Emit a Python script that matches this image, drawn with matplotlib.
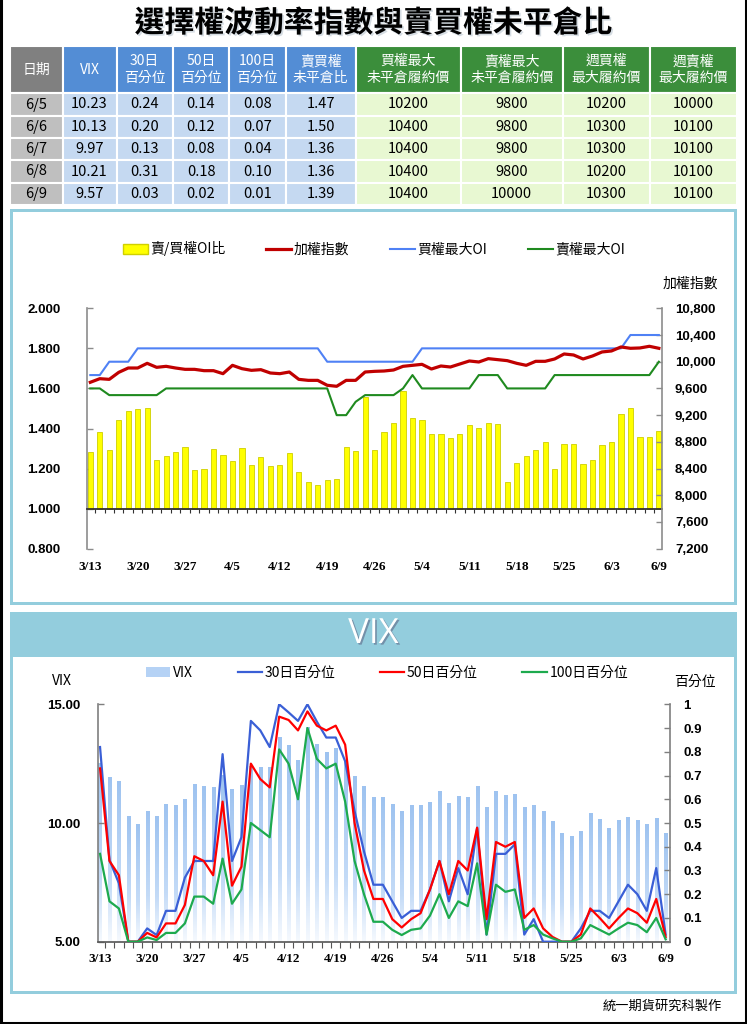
import numpy as np
import matplotlib
matplotlib.use('Agg')
import matplotlib.pyplot as plt
from matplotlib.patches import Rectangle, Patch
from matplotlib.lines import Line2D
from matplotlib.colors import LinearSegmentedColormap
import matplotlib.patheffects as pe

plt.rcParams['font.family'] = ['Noto Sans CJK TC', 'DejaVu Sans']

# ---------------- data ----------------
dates = ['3/13', '3/14', '3/15', '3/16', '3/17', '3/20', '3/21', '3/22', '3/23', '3/24',
         '3/27', '3/28', '3/29', '3/30', '3/31', '4/5', '4/6', '4/7', '4/10', '4/11',
         '4/12', '4/13', '4/14', '4/17', '4/18', '4/19', '4/20', '4/21', '4/24', '4/25',
         '4/26', '4/27', '4/28', '5/2', '5/3', '5/4', '5/5', '5/8', '5/9', '5/10',
         '5/11', '5/12', '5/15', '5/16', '5/17', '5/18', '5/19', '5/22', '5/23', '5/24',
         '5/25', '5/26', '5/31', '6/1', '6/2', '6/3', '6/5', '6/6', '6/7', '6/8', '6/9']

pc_oi_ratio = [1.284, 1.384, 1.291, 1.444, 1.487, 1.497, 1.504, 1.244, 1.264, 1.284,
               1.309, 1.191, 1.196, 1.298, 1.268, 1.236, 1.303, 1.219, 1.258, 1.214,
               1.219, 1.279, 1.184, 1.131, 1.120, 1.141, 1.146, 1.308, 1.289, 1.559,
               1.294, 1.381, 1.429, 1.589, 1.454, 1.442, 1.371, 1.371, 1.353, 1.374,
               1.419, 1.402, 1.429, 1.424, 1.131, 1.226, 1.263, 1.293, 1.334, 1.199,
               1.323, 1.323, 1.223, 1.241, 1.318, 1.334, 1.47, 1.50, 1.36, 1.36, 1.39]

taiex = [9692, 9746, 9736, 9841, 9906, 9906, 9976, 9916, 9931, 9906,
         9886, 9886, 9866, 9866, 9821, 9946, 9896, 9871, 9881, 9831,
         9821, 9846, 9736, 9721, 9721, 9647, 9632, 9721, 9721, 9846,
         9856, 9861, 9876, 9931, 9946, 9961, 9891, 9936, 9921, 9966,
         10011, 9996, 10046, 10031, 10016, 9976, 9946, 10006, 10006, 10041,
         10116, 10101, 10041, 10086, 10146, 10161, 10221, 10201, 10206, 10231, 10201]

call_max_oi = [9800, 9800, 10000, 10000, 10000, 10200, 10200, 10200, 10200, 10200,
               10200, 10200, 10200, 10200, 10200, 10200, 10200, 10200, 10200, 10200,
               10200, 10200, 10200, 10200, 10200, 10000, 10000, 10000, 10000, 10000,
               10000, 10000, 10000, 10000, 10000, 10200, 10200, 10200, 10200, 10200,
               10200, 10200, 10200, 10200, 10200, 10200, 10200, 10200, 10200, 10200,
               10200, 10200, 10200, 10200, 10200, 10200, 10200, 10400, 10400, 10400, 10400]

put_max_oi = [9600, 9600, 9500, 9500, 9500, 9500, 9500, 9500, 9600, 9600,
              9600, 9600, 9600, 9600, 9600, 9600, 9600, 9600, 9600, 9600,
              9600, 9600, 9600, 9600, 9600, 9600, 9200, 9200, 9400, 9500,
              9500, 9500, 9500, 9600, 9800, 9600, 9600, 9600, 9600, 9600,
              9600, 9800, 9800, 9800, 9600, 9600, 9600, 9600, 9600, 9800,
              9800, 9800, 9800, 9800, 9800, 9800, 9800, 9800, 9800, 9800, 10000]

vix = [12.50, 11.95, 11.78, 10.27, 9.94, 10.51, 10.27, 10.81, 10.73, 11.01,
       11.63, 11.56, 11.49, 12.00, 11.43, 11.60, 12.40, 12.33, 12.33, 13.60,
       13.26, 12.63, 14.03, 13.31, 13.00, 13.17, 12.60, 11.98, 11.56, 11.07,
       11.07, 10.80, 10.48, 10.73, 10.73, 10.87, 11.36, 10.84, 11.11, 11.07,
       11.57, 10.66, 11.36, 11.15, 11.22, 10.66, 10.74, 10.48, 10.06, 9.56,
       9.45, 9.65, 10.41, 10.17, 9.79, 10.10, 10.23, 10.13, 9.97, 10.21, 9.57]

pct30 = [0.82, 0.344, 0.246, 0, 0, 0.056, 0.028, 0.13, 0.13, 0.27,
         0.34, 0.34, 0.34, 0.79, 0.34, 0.44, 0.93, 0.89, 0.82, 1.0,
         0.966, 0.93, 1.0, 0.927, 0.86, 0.86, 0.76, 0.55, 0.38, 0.24,
         0.24, 0.17, 0.10, 0.13, 0.13, 0.22, 0.34, 0.17, 0.31, 0.20,
         0.48, 0.03, 0.37, 0.37, 0.41, 0.03, 0.095, 0, 0, 0,
         0, 0.056, 0.13, 0.13, 0.10, 0.17, 0.24, 0.20, 0.13, 0.31, 0.03]

pct50 = [0.73, 0.34, 0.28, 0, 0, 0.037, 0.018, 0.077, 0.077, 0.155,
         0.36, 0.34, 0.28, 0.59, 0.236, 0.316, 0.75, 0.685, 0.65, 0.948,
         0.934, 0.89, 0.97, 0.91, 0.89, 0.91, 0.83, 0.50, 0.30, 0.18,
         0.18, 0.095, 0.06, 0.095, 0.12, 0.22, 0.34, 0.20, 0.34, 0.30,
         0.48, 0.095, 0.42, 0.40, 0.42, 0.10, 0.14, 0.056, 0.02, 0,
         0, 0.03, 0.14, 0.10, 0.056, 0.10, 0.14, 0.12, 0.08, 0.18, 0.02]

pct100 = [0.37, 0.17, 0.14, 0, 0, 0.018, 0.007, 0.037, 0.037, 0.077,
          0.19, 0.19, 0.16, 0.35, 0.16, 0.22, 0.50, 0.47, 0.44, 0.81,
          0.75, 0.60, 0.90, 0.77, 0.73, 0.75, 0.59, 0.34, 0.20, 0.084,
          0.084, 0.05, 0.028, 0.05, 0.056, 0.11, 0.20, 0.10, 0.17, 0.15,
          0.33, 0.03, 0.24, 0.21, 0.22, 0.05, 0.07, 0.03, 0.014, 0,
          0, 0.014, 0.07, 0.05, 0.03, 0.056, 0.08, 0.07, 0.04, 0.10, 0.01]

# table
table_header = ['日期', 'VIX', '30日\n百分位', '50日\n百分位', '100日\n百分位', '賣買權\n未平倉比',
                '買權最大\n未平倉履約價', '賣權最大\n未平倉履約價', '週買權\n最大履約價', '週賣權\n最大履約價']
tbl_date = ['6/5', '6/6', '6/7', '6/8', '6/9']
tbl_vix = ['10.23', '10.13', '9.97', '10.21', '9.57']
tbl_p30 = ['0.24', '0.20', '0.13', '0.31', '0.03']
tbl_p50 = ['0.14', '0.12', '0.08', '0.18', '0.02']
tbl_p100 = ['0.08', '0.07', '0.04', '0.10', '0.01']
tbl_pcr = ['1.47', '1.50', '1.36', '1.36', '1.39']
tbl_call_strike = ['10200', '10400', '10400', '10400', '10400']
tbl_put_strike = ['9800', '9800', '9800', '9800', '10000']
tbl_wk_call = ['10200', '10300', '10300', '10200', '10300']
tbl_wk_put = ['10000', '10100', '10100', '10100', '10100']

# ---------------- layout ----------------
W, H = 747, 1024
fig = plt.figure(figsize=(W / 100, H / 100), dpi=100)


def frect(x0, y0, x1, y1):
    return [x0 / W, 1 - y1 / H, (x1 - x0) / W, (y1 - y0) / H]


bg = fig.add_axes([0, 0, 1, 1], zorder=0)
bg.set_xlim(0, W)
bg.set_ylim(H, 0)
bg.axis('off')

PANEL = '#93CDDD'
# outer border (left, right, bottom)
bg.plot([1.2, 1.2, W - 1.2, W - 1.2], [0, H - 1.2, H - 1.2, 0], color='black', lw=2.2,
        solid_joinstyle='miter')

# title
bg.text(W / 2, 23, '選擇權波動率指數與賣買權未平倉比', ha='center', va='center',
        fontsize=21.5, fontweight='bold', color='black',
        path_effects=[pe.withSimplePatchShadow(offset=(1.2, -1.2), shadow_rgbFace='#9ab', alpha=0.4)])

# table
col_edges = [10, 62.5, 116.5, 173, 229, 285.5, 356, 460.5, 563, 650, 737]
row_edges = [46, 93, 116, 138, 160, 183, 205]
head_colors = ['#808080'] + ['#538DD5'] * 5 + ['#3B8E3B'] * 4
cell_colors = ['#BFBFBF'] + ['#C5D9F1'] * 5 + ['#E8F8D2'] * 4
columns = [tbl_date, tbl_vix, tbl_p30, tbl_p50, tbl_p100, tbl_pcr,
           tbl_call_strike, tbl_put_strike, tbl_wk_call, tbl_wk_put]
for c in range(10):
    x0, x1 = col_edges[c], col_edges[c + 1]
    y0, y1 = row_edges[0], row_edges[1]
    bg.add_patch(Rectangle((x0, y0), x1 - x0, y1 - y0, fc=head_colors[c], ec='white', lw=1.5))
    bg.text((x0 + x1) / 2, (y0 + y1) / 2, table_header[c], ha='center', va='center',
            color='white', fontsize=10, linespacing=1.25)
    for r in range(5):
        y0, y1 = row_edges[r + 1], row_edges[r + 2]
        bg.add_patch(Rectangle((x0, y0), x1 - x0, y1 - y0, fc=cell_colors[c], ec='white', lw=1.5))
        bg.text((x0 + x1) / 2, (y0 + y1) / 2, columns[c][r], ha='center', va='center',
                color='black', fontsize=10.5)

# panels
bg.add_patch(Rectangle((10, 209), 727, 396, fc=PANEL, ec='none'))
bg.add_patch(Rectangle((13, 212), 721, 390, fc='white', ec='none'))
bg.add_patch(Rectangle((10, 612), 727, 382, fc=PANEL, ec='none'))
bg.add_patch(Rectangle((13, 657), 721, 334, fc='white', ec='none'))
bg.text(W / 2, 634, 'VIX', ha='center', va='center', color='white', fontsize=25,
        family='Open Sans',
        path_effects=[pe.withSimplePatchShadow(offset=(1.2, -1.2), shadow_rgbFace='#557', alpha=0.5)])

# axis titles / footer
bg.text(690, 284, '加權指數', ha='center', va='center', fontsize=10)
bg.text(62, 681, 'VIX', ha='center', va='center', fontsize=10)
bg.text(695, 682, '百分位', ha='center', va='center', fontsize=10)
bg.text(722, 1006, '統一期貨研究科製作', ha='right', va='center', fontsize=9.5)

NUMF = dict(fontfamily='Liberation Sans', fontweight='bold', fontsize=9.5)
DATEF = dict(fontfamily='Liberation Serif', fontweight='bold', fontsize=9.5)
x = np.arange(len(dates))
lab_idx = list(range(0, len(dates), 5))

# ---------------- top chart ----------------
ax1 = fig.add_axes(frect(87, 308.3, 661.7, 548.7), zorder=2)
ax1.patch.set_alpha(0)
ax1.bar(x, np.array(pc_oi_ratio) - 1.0, bottom=1.0, width=0.55, color='#FFFF00',
        edgecolor='#CFCF00', linewidth=0.6, zorder=2)
ax1.set_xlim(-0.35, 60.3)
ax1.set_ylim(0.8, 2.0)
yt = np.round(np.arange(0.8, 2.001, 0.2), 1)
ax1.set_yticks(yt, labels=[f'{v:.3f}' for v in yt], **NUMF)
for s in ['top', 'right']:
    ax1.spines[s].set_visible(False)
ax1.spines['bottom'].set_position(('data', 1.0))
ax1.spines['bottom'].set_color('#333333')
ax1.spines['bottom'].set_linewidth(1.3)
ax1.spines['bottom'].set_zorder(3)
ax1.spines['left'].set_color('#8c8c8c')
ax1.spines['left'].set_linewidth(1.2)
ax1.set_xticks(np.arange(0.5, 60, 1))
ax1.tick_params(axis='x', direction='out', length=3, width=0.8, color='#333333', labelbottom=False)
ax1.tick_params(axis='y', direction='in', length=4, width=1, color='#8c8c8c', pad=19)

sec1 = ax1.secondary_xaxis('bottom')
sec1.set_xticks(lab_idx, labels=[dates[i] for i in lab_idx], **DATEF)
sec1.tick_params(length=0, pad=8.5)
sec1.spines['bottom'].set_visible(False)

ax1r = ax1.twinx()
ax1r.set_ylim(7200, 10800)
rt = np.arange(7200, 10801, 400)
ax1r.set_yticks(rt, labels=[f'{v:,}' for v in rt], **NUMF)
for s in ['top', 'left', 'bottom']:
    ax1r.spines[s].set_visible(False)
ax1r.spines['right'].set_color('#8c8c8c')
ax1r.spines['right'].set_linewidth(1.2)
ax1r.tick_params(axis='y', direction='in', length=4, width=1, color='#8c8c8c', pad=9.5)
ax1r.plot(x, call_max_oi, color='#4F81F5', lw=1.5, zorder=3)
ax1r.plot(x, put_max_oi, color='#1F8A1F', lw=1.5, zorder=3)
ax1r.plot(x, taiex, color='#C00000', lw=2.3, zorder=4)
ax1r.set_xlim(-0.35, 60.3)

h1 = [Patch(facecolor='#FFFF00', edgecolor='#D0D000'),
      Line2D([], [], color='#C00000', lw=2.3),
      Line2D([], [], color='#4F81F5', lw=1.5),
      Line2D([], [], color='#1F8A1F', lw=1.5)]
fig.legend(h1, ['賣/買權OI比', '加權指數', '買權最大OI', '賣權最大OI'], loc='center left',
           bbox_to_anchor=(123 / W, 1 - 249 / H), ncol=4, frameon=False, fontsize=10,
           handlelength=1.8, handletextpad=0.2, columnspacing=2.9, borderpad=0, borderaxespad=0)

# ---------------- bottom chart ----------------
ax2 = fig.add_axes(frect(97.5, 704.3, 670, 941.7), zorder=2)
ax2.patch.set_alpha(0)
bars = ax2.bar(x, np.array(vix) - 5, bottom=5, width=0.34, color='#B5D2F5', linewidth=0, zorder=1)
cmap_vix = LinearSegmentedColormap.from_list('vixbar', [(0, '#F5F9FE'), (0.35, '#C4DBF7'), (1, '#9EC3F0')])
grad = np.linspace(0, 1, 64).reshape(-1, 1)
for b in bars:
    bx, bw, by, bh = b.get_x(), b.get_width(), b.get_y(), b.get_height()
    ax2.imshow(grad, extent=[bx, bx + bw, by, by + bh], origin='lower', aspect='auto',
               cmap=cmap_vix, zorder=1.5, interpolation='bilinear')
ax2.set_xlim(-0.27, 60.46)
ax2.set_ylim(5, 15)
ax2.set_yticks([5, 10, 15], labels=['5.00', '10.00', '15.00'], **NUMF)
for s in ['top', 'right']:
    ax2.spines[s].set_visible(False)
ax2.spines['bottom'].set_color('#555555')
ax2.spines['bottom'].set_linewidth(1.2)
ax2.spines['left'].set_color('#7f7f7f')
ax2.spines['left'].set_linewidth(1.2)
ax2.set_xticks(np.arange(0.5, 60, 1))
ax2.tick_params(axis='x', direction='out', length=4, width=0.8, color='#555555', labelbottom=False)
ax2.tick_params(axis='y', direction='in', length=4, width=1, color='#7f7f7f', pad=12)

sec2 = ax2.secondary_xaxis('bottom')
sec2.set_xticks(lab_idx, labels=[dates[i] for i in lab_idx], **DATEF)
sec2.tick_params(length=0, pad=8)
sec2.spines['bottom'].set_visible(False)

ax2r = ax2.twinx()
ax2r.set_ylim(0, 1)
pt = np.round(np.arange(0, 1.001, 0.1), 1)
ax2r.set_yticks(pt, labels=[('%g' % v) for v in pt], **NUMF)
for s in ['top', 'left', 'bottom']:
    ax2r.spines[s].set_visible(False)
ax2r.spines['right'].set_color('#7f7f7f')
ax2r.spines['right'].set_linewidth(1.2)
ax2r.tick_params(axis='y', direction='in', length=4, width=1, color='#7f7f7f', pad=9.5)
ax2r.plot(x, pct30, color='#3A5FD6', lw=1.6)
ax2r.plot(x, pct50, color='#FF0000', lw=1.6)
ax2r.plot(x, pct100, color='#1DAA4E', lw=1.6)
ax2r.set_xlim(-0.27, 60.46)

h2 = [Patch(facecolor='#B5D2F5', edgecolor='none'),
      Line2D([], [], color='#3A5FD6', lw=1.6),
      Line2D([], [], color='#FF0000', lw=1.6),
      Line2D([], [], color='#1DAA4E', lw=1.6)]
fig.legend(h2, ['VIX', '30日百分位', '50日百分位', '100日百分位'], loc='center left',
           bbox_to_anchor=(146 / W, 1 - 673 / H), ncol=4, frameon=False, fontsize=10,
           handlelength=1.75, handletextpad=0.2, columnspacing=3.2, borderpad=0, borderaxespad=0)

fig.savefig('out.png', dpi=100)
